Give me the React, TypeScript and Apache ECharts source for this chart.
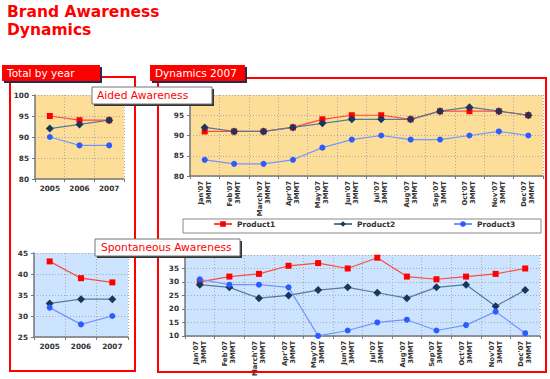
import React, { useEffect, useRef } from 'react';
import * as echarts from 'echarts';

const years = ['2005', '2006', '2007'];
const months = ["Jan'07", "Feb'07", "March'07", "Apr'07", "May'07", "Jun'07", "Jul'07", "Aug'07", "Sep'07", "Oct'07", "Nov'07", "Dec'07"];
const monthSuffix = '3MMT';
const productNames = ['Product1', 'Product2', 'Product3'];

const aidedYearP1 = [95, 94, 94];
const aidedYearP2 = [92, 93, 94];
const aidedYearP3 = [90, 88, 88];
const spontYearP1 = [43, 39, 38];
const spontYearP2 = [33, 34, 34];
const spontYearP3 = [32, 28, 30];
const aidedMonthP1 = [91, 91, 91, 92, 94, 95, 95, 94, 96, 96, 96, 95];
const aidedMonthP2 = [92, 91, 91, 92, 93, 94, 94, 94, 96, 97, 96, 95];
const aidedMonthP3 = [84, 83, 83, 84, 87, 89, 90, 89, 89, 90, 91, 90];
const spontMonthP1 = [30, 32, 33, 36, 37, 35, 39, 32, 31, 32, 33, 35];
const spontMonthP2 = [29, 28, 24, 25, 27, 28, 26, 24, 28, 29, 21, 27];
const spontMonthP3 = [31, 29, 29, 28, 10, 12, 15, 16, 12, 14, 19, 11];

const titleLines = ['Brand Awareness', 'Dynamics'];
const panelTitles = ['Total by year', 'Dynamics 2007'];
const sectionTitles = ['Aided Awareness', 'Spontaneous Awareness'];

const FONT = 'DejaVu Sans, Verdana, sans-serif';
const RED = '#FF0000';

const productStyles = [
  { symbol: 'rect', symbolSize: 6, itemColor: '#FF0000', lineColor: '#FF4A3A' },
  { symbol: 'diamond', symbolSize: 8, itemColor: '#17375E', lineColor: '#5B7A99' },
  { symbol: 'circle', symbolSize: 6, itemColor: '#2B5CFF', lineColor: '#7594FF' },
];

const grids = [
  { left: 35, top: 95, width: 89, height: 84, bg: '#FCDE98' },
  { left: 190, top: 95, width: 353, height: 81, bg: '#FCDE98' },
  { left: 34, top: 253, width: 94, height: 84, bg: '#CCE4FF' },
  { left: 185, top: 255, width: 355, height: 81, bg: '#CCE4FF' },
];

const axisColor = '#777';
const labelStyle = { fontFamily: FONT, fontWeight: 'bold' as const, fontSize: 7.3, color: '#333' };

function xAxis(gridIndex: number, data: string[], rotated: boolean) {
  return {
    type: 'category',
    gridIndex,
    data,
    boundaryGap: true,
    axisLine: { show: true, lineStyle: { color: axisColor, width: 1.5 } },
    axisTick: { show: true, length: 3, interval: 0, lineStyle: { color: axisColor } },
    splitLine: { show: true, interval: 0, lineStyle: { color: '#AAAAAA', type: [1, 2] } },
    axisLabel: rotated
      ? { ...labelStyle, fontSize: 6.8, interval: 0, rotate: 90, margin: 5, lineHeight: 8, formatter: (v: string) => v + '\n' + monthSuffix }
      : { ...labelStyle, interval: 0, margin: 6 },
  };
}

function yAxis(gridIndex: number, min: number, max: number, hideMax: boolean) {
  return {
    type: 'value',
    gridIndex,
    min,
    max,
    interval: 5,
    axisLine: { show: true, lineStyle: { color: axisColor, width: 1.5 } },
    axisTick: { show: true, length: 3, lineStyle: { color: axisColor } },
    splitLine: { show: true, lineStyle: { color: '#AAAAAA', type: [1, 2] } },
    axisLabel: { ...labelStyle, margin: 6, showMaxLabel: !hideMax },
  };
}

function makeSeries(idx: number, values: number[], p: number) {
  const s = productStyles[p];
  return {
    type: 'line',
    name: productNames[p],
    xAxisIndex: idx,
    yAxisIndex: idx,
    data: values,
    symbol: s.symbol,
    symbolSize: s.symbolSize,
    showSymbol: true,
    itemStyle: { color: s.itemColor },
    lineStyle: { color: s.lineColor, width: 1.2 },
    z: 3 + p,
  };
}

function App() {
  const ref = useRef<HTMLDivElement>(null);
  useEffect(() => {
    document.body.style.margin = '0';
    const chart = echarts.init(ref.current!, null, { renderer: 'svg' });
    const txt = (text: string, x: number, y: number, fill: string, size: number, weight = 'normal', z = 110) => ({
      type: 'text',
      z,
      style: { text, x, y, fill, fontFamily: FONT, fontSize: size, fontWeight: weight, verticalAlign: 'middle' },
    });
    const option: any = {
      animation: false,
      backgroundColor: '#FFFFFF',
      grid: grids.map((g) => ({
        left: g.left, top: g.top, width: g.width, height: g.height,
        show: true, backgroundColor: g.bg, borderWidth: 0, containLabel: false,
      })),
      xAxis: [xAxis(0, years, false), xAxis(1, months, true), xAxis(2, years, false), xAxis(3, months, true)],
      yAxis: [yAxis(0, 80, 100, false), yAxis(1, 80, 100, true), yAxis(2, 25, 45, false), yAxis(3, 10, 40, true)],
      legend: productNames.map((n, i) => ({
        data: [n],
        left: 213 + i * 120,
        top: 220,
        itemWidth: 18,
        itemHeight: 7,
        padding: 0,
        z: 20,
        textStyle: { ...labelStyle, fontSize: 7.5 },
      })),
      series: [
        makeSeries(0, aidedYearP1, 0), makeSeries(0, aidedYearP2, 1), makeSeries(0, aidedYearP3, 2),
        makeSeries(1, aidedMonthP1, 0), makeSeries(1, aidedMonthP2, 1), makeSeries(1, aidedMonthP3, 2),
        makeSeries(2, spontYearP1, 0), makeSeries(2, spontYearP2, 1), makeSeries(2, spontYearP3, 2),
        makeSeries(3, spontMonthP1, 0), makeSeries(3, spontMonthP2, 1), makeSeries(3, spontMonthP3, 2),
      ],
      graphic: [
        txt(titleLines[0], 7, 12, RED, 15.5, 'bold'),
        txt(titleLines[1], 7, 30, RED, 15.5, 'bold'),
        { type: 'rect', z: 1, shape: { x: 10, y: 77, width: 125, height: 294 }, style: { fill: 'none', stroke: RED, lineWidth: 2 } },
        { type: 'rect', z: 1, shape: { x: 158, y: 78, width: 388, height: 294 }, style: { fill: 'none', stroke: RED, lineWidth: 2 } },
        { type: 'rect', z: 101, shape: { x: 4, y: 67, width: 98, height: 16 }, style: { fill: '#1F2E4D' } },
        { type: 'rect', z: 102, shape: { x: 2, y: 65, width: 98, height: 16 }, style: { fill: RED } },
        txt(panelTitles[0], 7, 73, '#FFFFFF', 10.5),
        { type: 'rect', z: 101, shape: { x: 152, y: 67, width: 95, height: 16 }, style: { fill: '#1F2E4D' } },
        { type: 'rect', z: 102, shape: { x: 150, y: 65, width: 95, height: 16 }, style: { fill: RED } },
        txt(panelTitles[1], 155, 73, '#FFFFFF', 10.5),
        { type: 'rect', z: 101, shape: { x: 94, y: 89, width: 120, height: 17 }, style: { fill: '#333333' } },
        { type: 'rect', z: 102, shape: { x: 92, y: 87, width: 120, height: 17 }, style: { fill: '#FFFFFF', stroke: '#777777', lineWidth: 1 } },
        txt(sectionTitles[0], 97, 95.5, RED, 10.7),
        { type: 'rect', z: 101, shape: { x: 97, y: 241, width: 145, height: 17 }, style: { fill: '#333333' } },
        { type: 'rect', z: 102, shape: { x: 95, y: 239, width: 145, height: 17 }, style: { fill: '#FFFFFF', stroke: '#777777', lineWidth: 1 } },
        txt(sectionTitles[1], 101, 247.5, RED, 10.7),
        { type: 'rect', z: 1, shape: { x: 183, y: 219, width: 358, height: 14 }, style: { fill: '#FFFFFF', stroke: '#888888', lineWidth: 1 } },
      ],
    };
    chart.setOption(option);
    return () => chart.dispose();
  }, []);
  return <div ref={ref} style={{ position: 'absolute', left: 0, top: 0, width: 550, height: 379 }} />;
}

export default App;
